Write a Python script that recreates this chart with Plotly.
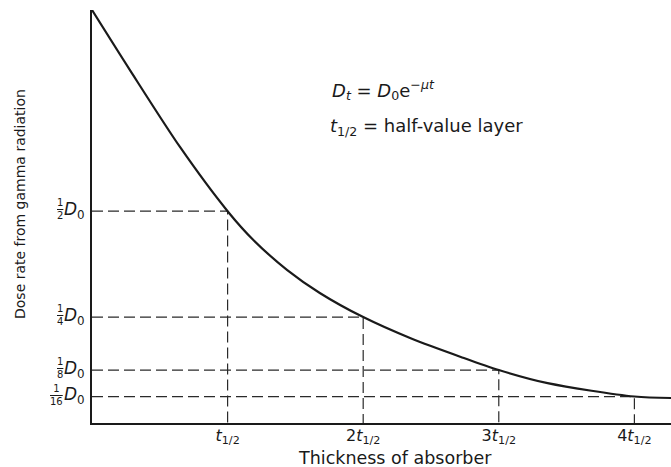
import plotly.graph_objects as go

# ---- data ----
curve_x = [0.0, 0.28, 0.65, 1.0, 1.19, 1.44, 1.68, 2.0, 2.35, 2.72, 3.0, 3.36, 4.0, 4.27]
curve_y = [0.975, 0.833, 0.651, 0.5, 0.432, 0.361, 0.307, 0.25, 0.200, 0.156, 0.125, 0.094, 0.0625, 0.059]

multiples = [1, 2, 3, 4]                      # thickness in half-value layers
levels = [0.5, 0.25, 0.125, 0.0625]           # fraction of D0
level_num = ["1", "1", "1", "1"]
level_den = ["2", "4", "8", "16"]
x_ticktext = ["<i>t</i><sub>1/2</sub>", "2<i>t</i><sub>1/2</sub>",
              "3<i>t</i><sub>1/2</sub>", "4<i>t</i><sub>1/2</sub>"]

FONT = "DejaVu Sans, Liberation Sans, Arial, sans-serif"
INK = "#1a1a1a"

fig = go.Figure()

# dashed guide lines
for m, lv in zip(multiples, levels):
    fig.add_trace(go.Scatter(
        x=[0, m, m], y=[lv, lv, 0], mode="lines",
        line=dict(color="#2a2a2a", width=1.2, dash="11px,5px"),
        hoverinfo="skip", showlegend=False))

# decay curve
fig.add_trace(go.Scatter(
    x=curve_x, y=curve_y, mode="lines",
    line=dict(color=INK, width=2.2, shape="spline", smoothing=0.8),
    showlegend=False))

annotations = []
# y-axis labels: stacked fraction + D0
for lv, num, den in zip(levels, level_num, level_den):
    annotations.append(dict(
        x=0, y=lv, xref="x", yref="y", xanchor="right", yanchor="middle",
        xshift=-5, yshift=1, showarrow=False,
        text="<i>D</i><sub>0</sub>", font=dict(family=FONT, size=17, color=INK)))
    annotations.append(dict(
        x=0, y=lv, xref="x", yref="y", xanchor="right", yanchor="middle",
        xshift=-27, yshift=2, showarrow=False, align="center",
        text=f"{num}<br><span style='text-decoration:overline'>{den}</span>",
        font=dict(family=FONT, size=10, color=INK)))

# formula text
annotations.append(dict(
    x=330, y=90, xref="paper", yref="paper", showarrow=False,
    text="<i>D<sub>t</sub></i> = <i>D</i><sub>0</sub>e<sup>−<i>μt</i></sup>",
    font=dict(family=FONT, size=18, color=INK), xanchor="left", yanchor="middle"))
annotations.append(dict(
    x=328, y=127, xref="paper", yref="paper", showarrow=False,
    text="<i>t</i><sub>1/2</sub> = half-value layer",
    font=dict(family=FONT, size=18, color=INK), xanchor="left", yanchor="middle"))
# axis titles
annotations.append(dict(
    x=395, y=458, xref="paper", yref="paper", showarrow=False,
    text="Thickness of absorber",
    font=dict(family=FONT, size=17.5, color=INK), xanchor="center", yanchor="middle"))
annotations.append(dict(
    x=20, y=204, xref="paper", yref="paper", showarrow=False, textangle=-90,
    text="Dose rate from gamma radiation",
    font=dict(family=FONT, size=14, color=INK), xanchor="center", yanchor="middle"))

# convert pixel-positioned annotations to paper coords
W, H = 671, 467
L, R, T, B = 92, 0, 10, 44
pw, ph = W - L - R, H - T - B
for a in annotations:
    if a["xref"] == "paper":
        a["x"] = (a["x"] - L) / pw
        a["y"] = 1 - (a["y"] - T) / ph

fig.update_layout(
    width=W, height=H,
    margin=dict(l=L, r=R, t=T, b=B, pad=0),
    plot_bgcolor="white", paper_bgcolor="white",
    annotations=annotations,
    xaxis=dict(range=[0, 4.27], showgrid=False, zeroline=False,
               showline=True, linecolor=INK, linewidth=1.6,
               tickvals=multiples, ticktext=x_ticktext, ticks="",
               ticklabelstandoff=-3,
               tickfont=dict(family=FONT, size=16, color=INK)),
    yaxis=dict(range=[0, 0.975], showgrid=False, zeroline=False,
               showline=True, linecolor=INK, linewidth=1.6,
               showticklabels=False, ticks=""),
)

fig.write_html("out.html", config={"displayModeBar": False},
               post_script="document.body.style.margin='0px';")
